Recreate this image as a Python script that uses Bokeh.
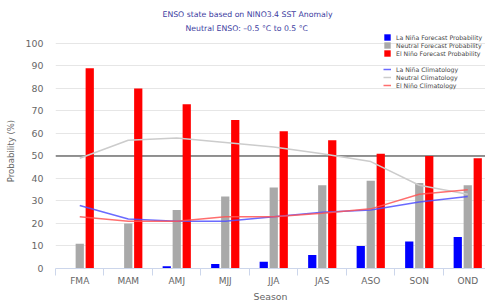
from bokeh.plotting import figure
from bokeh.models import (Range1d, FixedTicker, Span, Legend, LegendItem, Title,
                          ColumnDataSource)
from bokeh.transform import dodge
from bokeh.embed import file_html
from bokeh.resources import INLINE

seasons = ["FMA", "MAM", "AMJ", "MJJ", "JJA", "JAS", "ASO", "SON", "OND"]
la_nina_prob = [0, 0, 1, 2, 3, 6, 10, 12, 14]
neutral_prob = [11, 20, 26, 32, 36, 37, 39, 38, 37]
el_nino_prob = [89, 80, 73, 66, 61, 57, 51, 50, 49]
la_nina_clim = [28, 22, 21, 21, 23, 25, 26, 29.5, 32]
neutral_clim = [49, 57, 58, 56, 54, 51, 47.5, 37, 33]
el_nino_clim = [23, 21, 21, 23, 23, 24.5, 26.5, 33, 35]
y_ticks = [0, 10, 20, 30, 40, 50, 60, 70, 80, 90, 100]
neutral_line = 50

FONT = "DejaVu Sans"

src = ColumnDataSource(dict(
    x=list(range(len(seasons))),
    la_nina_prob=la_nina_prob, neutral_prob=neutral_prob, el_nino_prob=el_nino_prob,
    la_nina_clim=la_nina_clim, neutral_clim=neutral_clim, el_nino_clim=el_nino_clim,
))

p = figure(width=485, height=304, x_range=Range1d(-0.5, 8.366), y_range=Range1d(0, 104.4),
           output_backend="svg", toolbar_location=None,
           min_border_left=55, min_border_right=0, min_border_top=33, min_border_bottom=35)
p.outline_line_color = None

sub = Title(text="Neutral ENSO: \u20130.5 \u00b0C to 0.5 \u00b0C", align="left", offset=130,
            text_font=FONT, text_font_size="7.75px", text_font_style="normal",
            text_color="#40409f", standoff=2)
main = Title(text="ENSO state based on NINO3.4 SST Anomaly", align="left", offset=107,
             text_font=FONT, text_font_size="7.75px", text_font_style="normal",
             text_color="#40409f", standoff=4)
p.add_layout(sub, "above")
p.add_layout(main, "above")

# x axis: labels at season centres, ticks on the boundaries
p.xaxis.ticker = FixedTicker(ticks=list(range(len(seasons))),
                             minor_ticks=[i - 0.5 for i in range(len(seasons) + 1)])
p.xaxis.major_label_overrides = {i: s for i, s in enumerate(seasons)}
p.xaxis.major_tick_in = 0
p.xaxis.major_tick_out = 0
p.xaxis.minor_tick_in = 0
p.xaxis.minor_tick_out = 7
p.xaxis.minor_tick_line_color = "#ccd6eb"
p.xaxis.axis_line_color = "#ccd6eb"
p.xaxis.major_label_text_font = FONT
p.xaxis.major_label_text_font_size = "9px"
p.xaxis.major_label_text_color = "#666666"
p.xaxis.major_label_standoff = 0
p.xaxis.axis_label = "Season"
p.xaxis.axis_label_text_font = FONT
p.xaxis.axis_label_text_font_size = "9.4px"
p.xaxis.axis_label_text_font_style = "normal"
p.xaxis.axis_label_text_color = "#666666"
p.xaxis.axis_label_standoff = 2

p.yaxis.ticker = FixedTicker(ticks=y_ticks)
p.yaxis.axis_line_color = None
p.yaxis.major_tick_line_color = None
p.yaxis.major_tick_out = 0
p.yaxis.major_tick_in = 0
p.yaxis.minor_tick_line_color = None
p.yaxis.minor_tick_out = 0
p.yaxis.major_label_text_font = FONT
p.yaxis.major_label_text_font_size = "9.4px"
p.yaxis.major_label_text_color = "#666666"
p.yaxis.major_label_standoff = 12
p.yaxis.axis_label = "Probability (%)"
p.yaxis.axis_label_text_font = FONT
p.yaxis.axis_label_text_font_size = "8.5px"
p.yaxis.axis_label_text_font_style = "normal"
p.yaxis.axis_label_text_color = "#666666"
p.yaxis.axis_label_standoff = 7

p.xgrid.grid_line_color = None
p.ygrid.ticker = FixedTicker(ticks=y_ticks)
p.ygrid.grid_line_color = "#e6e6e6"

p.add_layout(Span(location=neutral_line, dimension="width", line_color="#707070",
                  line_width=1.5, level="underlay"))

bw = 0.17
off = 0.206
r_ln = p.vbar(x=dodge("x", -off), top="la_nina_prob", width=bw, source=src,
              fill_color="#0000ff", line_color=None)
r_ne = p.vbar(x="x", top="neutral_prob", width=bw, source=src,
              fill_color="#a9a9a9", line_color=None)
r_en = p.vbar(x=dodge("x", off), top="el_nino_prob", width=bw, source=src,
              fill_color="#ff0000", line_color=None)

l_ln = p.line(x="x", y="la_nina_clim", source=src, line_color="#5050ff", line_width=1.5, line_alpha=0.85)
l_ne = p.line(x="x", y="neutral_clim", source=src, line_color="#cccccc", line_width=1.5)
l_en = p.line(x="x", y="el_nino_clim", source=src, line_color="#ff5555", line_width=1.5, line_alpha=0.85)

common = dict(border_line_color=None, background_fill_alpha=0, padding=0, margin=0,
              spacing=0, glyph_width=8, glyph_height=8, label_height=8,
              label_standoff=5, label_text_font=FONT, label_text_font_size="6.2px",
              label_text_color="#444444")
leg1 = Legend(items=[LegendItem(label="La Niña Forecast Probability", renderers=[r_ln]),
                     LegendItem(label="Neutral Forecast Probability", renderers=[r_ne]),
                     LegendItem(label="El Niño Forecast Probability", renderers=[r_en])],
              location=(328, 211), **common)
leg2 = Legend(items=[LegendItem(label="La Niña Climatology", renderers=[l_ln]),
                     LegendItem(label="Neutral Climatology", renderers=[l_ne]),
                     LegendItem(label="El Niño Climatology", renderers=[l_en])],
              location=(328, 179), **common)
p.add_layout(leg1, "center")
p.add_layout(leg2, "center")

open("out.html", "w").write(file_html(p, INLINE))
